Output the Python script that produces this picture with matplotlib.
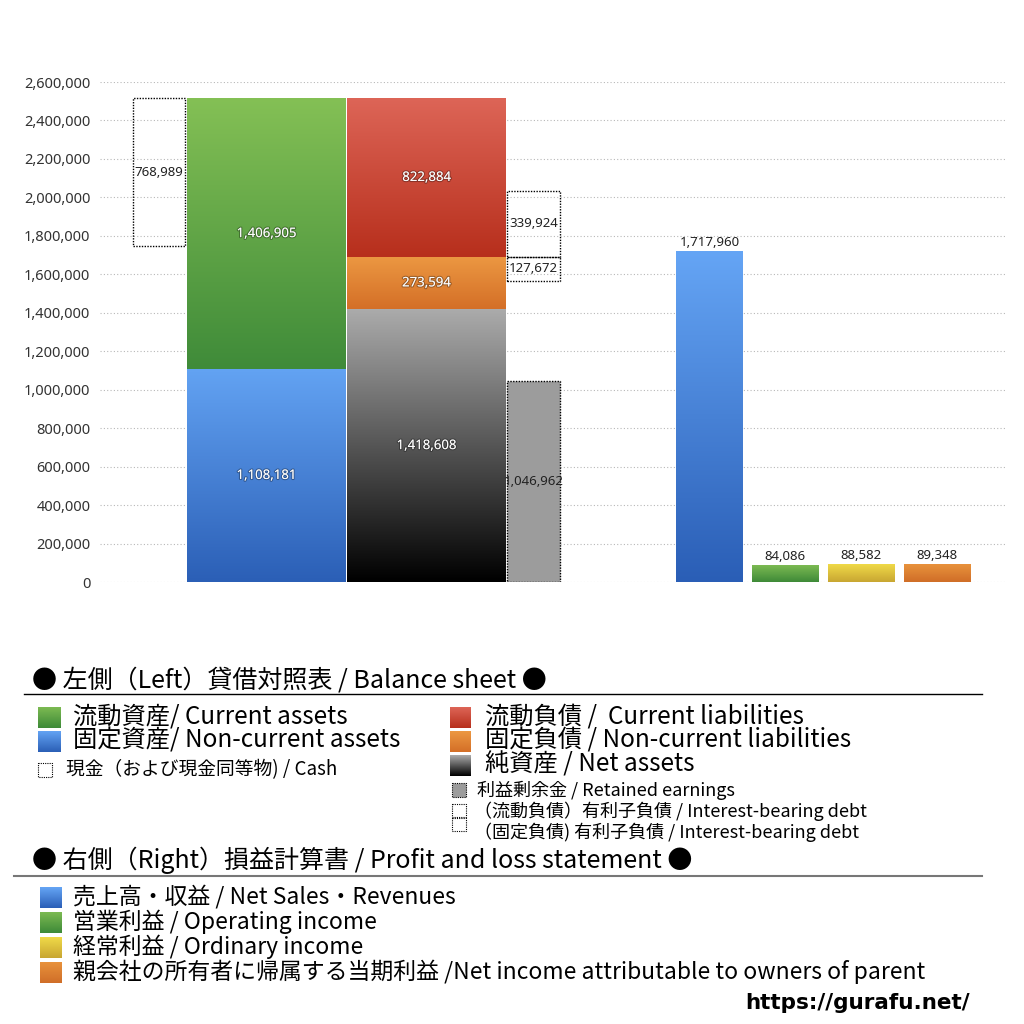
import numpy as np
import matplotlib.pyplot as plt
import matplotlib.patheffects as pe
from matplotlib.colors import LinearSegmentedColormap
from matplotlib.patches import Rectangle

plt.rcParams['font.family'] = ['Noto Sans CJK JP', 'DejaVu Sans']

# left side: balance sheet
noncurrent_assets = 1108181
current_assets = 1406905
cash = 768989
net_assets = 1418608
noncurrent_liab = 273594
current_liab = 822884
retained_earnings = 1046962
ib_debt_current = 339924
ib_debt_noncurrent = 127672

# right side: profit and loss
pl_values = [1717960, 84086, 88582, 89348]
pl_top = ['#65a5f5', '#7cba52', '#f0da48', '#e8923c']
pl_bottom = ['#2a5eb6', '#3e8a38', '#c8a632', '#d06e28']

yticks = np.arange(0, 2600001, 200000)

# bar layout (x units = pixels from left edge of plot area)
X_CASH, W_CASH = 59, 52
X_ASSET, W_BIG = 166.5, 159
X_LIAB = 326.5
X_DEBT, W_DEBT = 433.5, 53
X_PL = [609.5, 685, 761, 837]
W_PL = 67

fig = plt.figure(figsize=(10.24, 10.24), dpi=100)
ax = fig.add_axes([100 / 1024, 1 - 582 / 1024, 905 / 1024, 500 / 1024])

def grad_bar(x, w, y0, y1, top, bottom, z=2):
    cmap = LinearSegmentedColormap.from_list('g', [bottom, top])
    img = np.linspace(0, 1, 256).reshape(-1, 1)
    ax.imshow(img, cmap=cmap, origin='lower', aspect='auto',
              extent=(x - w / 2, x + w / 2, y0, y1), zorder=z,
              interpolation='bilinear')

def dotted_box(x, w, y0, y1, face='none'):
    ax.add_patch(Rectangle((x - w / 2, y0), w, y1 - y0, facecolor=face,
                           edgecolor='black', linestyle=(0, (1, 1)),
                           linewidth=1, zorder=3))

shadow = [pe.withStroke(linewidth=1.6, foreground=(0, 0, 0, 0.3))]

def inner_label(x, y, v):
    ax.text(x, y, f'{v:,}', color='white', ha='center', va='center',
            fontsize=9.5, family='Noto Sans', path_effects=shadow, zorder=5)

def outer_label(x, y, v, va='center'):
    ax.text(x, y, f'{v:,}', color='#222222', ha='center', va=va,
            fontsize=9.5, family='Noto Sans', zorder=5)

total = noncurrent_assets + current_assets

# assets
grad_bar(X_ASSET, W_BIG, 0, noncurrent_assets, '#63a3f3', '#2b5fb6')
grad_bar(X_ASSET, W_BIG, noncurrent_assets, total, '#84c055', '#3f8b39')
inner_label(X_ASSET, noncurrent_assets / 2, noncurrent_assets)
inner_label(X_ASSET, noncurrent_assets + current_assets / 2, current_assets)

# cash
dotted_box(X_CASH, W_CASH, total - cash, total)
outer_label(X_CASH, total - cash / 2, cash)

# liabilities + net assets
b1 = net_assets
b2 = b1 + noncurrent_liab
b3 = b2 + current_liab
grad_bar(X_LIAB, W_BIG, 0, b1, '#ababab', '#000000')
grad_bar(X_LIAB, W_BIG, b1, b2, '#ec9842', '#d46f27')
grad_bar(X_LIAB, W_BIG, b2, b3, '#dd6557', '#b72f1c')
inner_label(X_LIAB, b1 / 2, net_assets)
inner_label(X_LIAB, b1 + noncurrent_liab / 2, noncurrent_liab)
inner_label(X_LIAB, b2 + current_liab / 2, current_liab)

# retained earnings and interest-bearing debt
dotted_box(X_DEBT, W_DEBT, 0, retained_earnings, face='#9c9c9c')
outer_label(X_DEBT, retained_earnings / 2, retained_earnings)
dotted_box(X_DEBT, W_DEBT, b2, b2 + ib_debt_current)
outer_label(X_DEBT, b2 + ib_debt_current / 2, ib_debt_current)
dotted_box(X_DEBT, W_DEBT, b2 - ib_debt_noncurrent, b2)
outer_label(X_DEBT, b2 - ib_debt_noncurrent / 2, ib_debt_noncurrent)

# profit and loss bars
for x, v, t, b in zip(X_PL, pl_values, pl_top, pl_bottom):
    grad_bar(x, W_PL, 0, v, t, b)
    outer_label(x, v + 15000, v, va='bottom')

ax.set_xlim(0, 905)
ax.set_ylim(0, 2600000)
ax.set_yticks(yticks)
ax.set_yticklabels([f'{v:,}' for v in yticks], family='Noto Sans',
                   fontsize=10.5, color='#333333')
ax.tick_params(axis='y', length=0, pad=7)
ax.set_xticks([])
for s in ax.spines.values():
    s.set_visible(False)
ax.yaxis.grid(True, linestyle=(0, (1, 2)), color='#b8b8b8', linewidth=0.8)
ax.set_axisbelow(True)

# legend area drawn in pixel coordinates
ov = fig.add_axes([0, 0, 1, 1])
ov.set_xlim(0, 1024)
ov.set_ylim(1024, 0)
ov.axis('off')

def sq(x0, y0, w, h, top=None, bottom=None, face='none', dotted=False):
    if top is not None:
        cmap = LinearSegmentedColormap.from_list('s', [top, bottom])
        ov.imshow(np.linspace(0, 1, 64).reshape(-1, 1), cmap=cmap,
                  origin='upper', aspect='auto',
                  extent=(x0, x0 + w, y0 + h, y0), zorder=2)
    if dotted or face != 'none':
        ov.add_patch(Rectangle((x0, y0), w, h, facecolor=face,
                               edgecolor='black' if dotted else 'none',
                               linestyle=(0, (1, 1)), linewidth=0.8, zorder=3))

def txt(x, y, s, size, **kw):
    ov.text(x, y, s, fontsize=size, ha='left', va='center', color='black', **kw)

txt(32, 680, '● 左側（Left）貸借対照表 / Balance sheet ●', 18)
ov.plot([24, 982], [694, 694], color='black', lw=1)

sq(38, 707, 23, 21, '#7cba52', '#3e8a38')
txt(73, 717, '流動資産/ Current assets', 17.5)
sq(38, 731, 23, 21, '#63a3f3', '#2b5fb6')
txt(73, 741, '固定資産/ Non-current assets', 17.5)
sq(38, 763, 14, 14, dotted=True)
txt(66, 770, '現金（および現金同等物) / Cash', 13.5)

sq(450, 707, 21, 21, '#dd6557', '#b72f1c')
txt(485, 717, '流動負債 /  Current liabilities', 17.5)
sq(450, 731, 21, 21, '#ec9842', '#d46f27')
txt(485, 741, '固定負債 / Non-current liabilities', 17.5)
sq(450, 755, 21, 21, '#ababab', '#000000')
txt(485, 765, '純資産 / Net assets', 17.5)
sq(452, 783, 14, 14, face='#9c9c9c', dotted=True)
txt(477, 790, '利益剰余金 / Retained earnings', 13)
sq(452, 804, 14, 13, dotted=True)
txt(474, 811, '（流動負債）有利子負債 / Interest-bearing debt', 13)
sq(452, 818, 14, 13, dotted=True)
txt(474, 832, '（固定負債) 有利子負債 / Interest-bearing debt', 13)

txt(32, 860, '● 右側（Right）損益計算書 / Profit and loss statement ●', 18)
ov.plot([14, 982], [876, 876], color='#777777', lw=1.5)

pl_labels = ['売上高・収益 / Net Sales・Revenues',
             '営業利益 / Operating income',
             '経常利益 / Ordinary income',
             '親会社の所有者に帰属する当期利益 /Net income attributable to owners of parent']
for i, (lab, t, b) in enumerate(zip(pl_labels, pl_top, pl_bottom)):
    y = 897 + 25 * i
    sq(40, y - 10, 22, 21, t, b)
    txt(73, y, lab, 16.5)

ov.text(970, 1003, 'https://gurafu.net/', fontsize=15.5, fontweight='bold',
        ha='right', va='center', family='DejaVu Sans')

fig.savefig('out.png', dpi=100)
